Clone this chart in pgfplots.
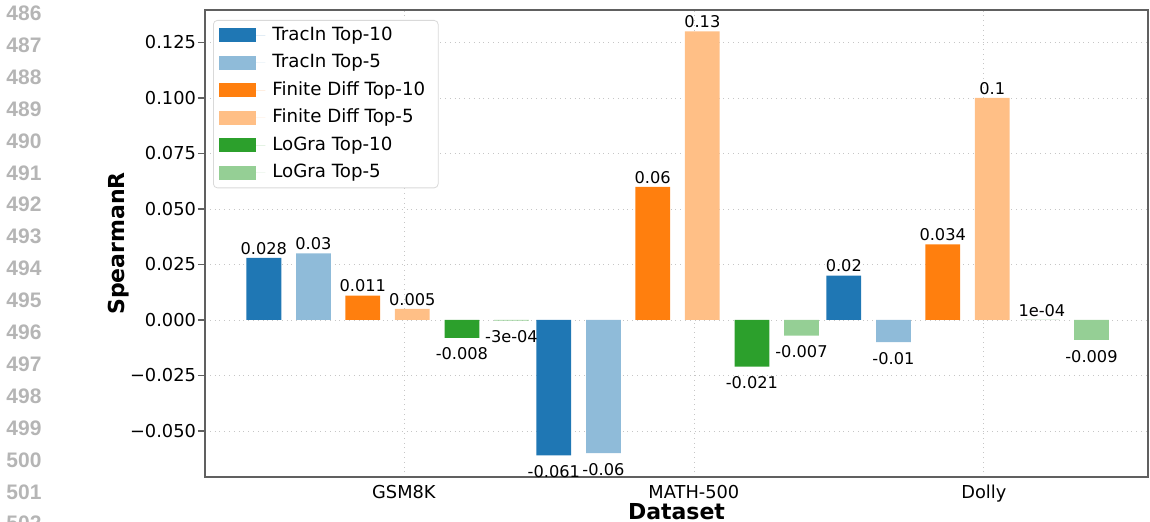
\documentclass[border=0pt]{standalone}
\usepackage{pgfplots}
\pgfplotsset{compat=1.18}
\usepackage{pgfplotstable}
\usepackage{fontspec}
\setmainfont{DejaVu Sans}
\newfontfamily\numfont{Liberation Sans}

\definecolor{tA}{HTML}{1F77B4}
\definecolor{tB}{HTML}{8FBBD9}
\definecolor{oA}{HTML}{FF7F0E}
\definecolor{oB}{HTML}{FFBF86}
\definecolor{gA}{HTML}{2CA02C}
\definecolor{gB}{HTML}{95CF95}
\definecolor{spine}{HTML}{606060}
\definecolor{lngray}{HTML}{B5B5B5}

% x = group index + series offset
\pgfplotstableread{
x y lab
-0.483 0.028 0.028
0.517 -0.061 -0.061
1.517 0.02 0.02
}\tracinten
\pgfplotstableread{
x y lab
-0.312 0.03 0.03
0.688 -0.06 -0.06
1.688 -0.01 -0.01
}\tracinfive
\pgfplotstableread{
x y lab
-0.142 0.011 0.011
0.858 0.06 0.06
1.858 0.034 0.034
}\fdten
\pgfplotstableread{
x y lab
0.029 0.005 0.005
1.029 0.13 0.13
2.029 0.1 0.1
}\fdfive
\pgfplotstableread{
x y lab
0.200 -0.008 -0.008
1.200 -0.021 -0.021
2.200 0.0001 1e-04
}\logrten
\pgfplotstableread{
x y lab
0.371 -0.0003 -3e-04
1.371 -0.007 -0.007
2.371 -0.009 -0.009
}\logrfive

\pgfplotsset{
  mybar/.style={fill=#1, draw=none, bar shift=0pt, bar width=0.12,
    legend image code/.code={\path (0pt,0pt) -- (23pt,0pt);
      \fill[#1, sharp corners] (0pt,-3.5pt) rectangle (18.5pt,3.5pt);}},
}

\begin{document}
\begin{tikzpicture}
\useasboundingbox (-102.5pt,-22.5pt) rectangle (472.5pt,238.5pt);
\begin{axis}[
  scale only axis, width=471.5pt, height=233.5pt,
  at={(0pt,0pt)}, anchor=south west,
  xmin=-0.686, xmax=2.566, ymin=-0.0707, ymax=0.1396,
  ybar, bar width=0.12,
  xtick={0,1,2}, xticklabels={GSM8K,MATH-500,Dolly},
  ytick={-0.05,-0.025,0,0.025,0.05,0.075,0.1,0.125},
  yticklabels={−0.050,−0.025,0.000,0.025,0.050,0.075,0.100,0.125},
  grid=major,
  major grid style={dotted, color=gray!45, line width=0.4pt},
  axis line style={spine, line width=0.6pt},
  tick align=outside, tick pos=left,
  major tick length=3.5pt,
  tick style={spine, line width=0.6pt},
  xtick style={draw=none},
  ticklabel style={font=\fontsize{8.9}{10}\selectfont},
  xticklabel style={yshift=3pt},
  yticklabel style={xshift=2.5pt},
  xlabel={Dataset}, ylabel={SpearmanR},
  label style={font=\bfseries\fontsize{11}{13}\selectfont},
  xlabel style={at={(axis description cs:0.5,-0.075)}, anchor=center},
  ylabel style={at={(axis description cs:-0.0912,0.5)}, anchor=center},
  point meta=explicit symbolic,
  visualization depends on={rawy \as \rawy},
  nodes near coords,
  nodes near coords style={font=\fontsize{8.1}{9}\selectfont, inner sep=1.5pt,
    /utils/exec={\ifdim\rawy pt<0pt \def\myanc{north}\def\myshift{-3.3pt}\else\def\myanc{south}\def\myshift{0pt}\fi},
    anchor=\myanc, yshift=\myshift},
  legend cell align=left,
  legend style={at={(axis description cs:0.0085,0.9786)}, anchor=north west,
    draw=gray!30, rounded corners=2pt, fill=white,
    font=\fontsize{9.1}{10}\selectfont,
    inner xsep=3pt, inner ysep=2pt, row sep=2.75pt,
    nodes={text height=7pt, text depth=2pt, inner ysep=1pt, inner xsep=3.5pt}},
]
\addplot[mybar=tA] table[x=x,y=y,meta=lab]{\tracinten};
\addlegendentry{TracIn Top-10}
\addplot[mybar=tB] table[x=x,y=y,meta=lab]{\tracinfive};
\addlegendentry{TracIn Top-5}
\addplot[mybar=oA] table[x=x,y=y,meta=lab]{\fdten};
\addlegendentry{Finite Diff Top-10}
\addplot[mybar=oB] table[x=x,y=y,meta=lab]{\fdfive};
\addlegendentry{Finite Diff Top-5}
\addplot[mybar=gA] table[x=x,y=y,meta=lab]{\logrten};
\addlegendentry{LoGra Top-10}
\addplot[mybar=gB] table[x=x,y=y,meta=lab]{\logrfive};
\addlegendentry{LoGra Top-5}
\end{axis}
\foreach \i in {0,...,16}{
  \pgfmathtruncatemacro{\lnum}{486+\i}
  \node[font=\numfont\bfseries\fontsize{10.5}{12}\selectfont, text=lngray, anchor=center]
    at (-90.5pt,{231.85pt-\i*15.95pt}) {\lnum};
}
\end{tikzpicture}
\end{document}
